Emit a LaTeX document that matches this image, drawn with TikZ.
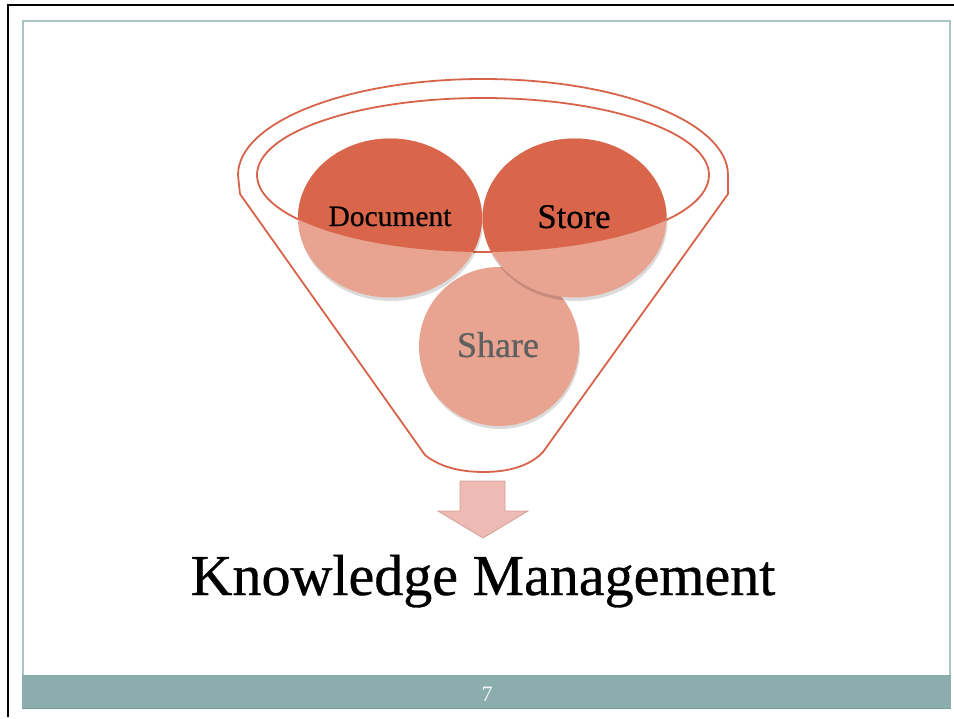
\documentclass[tikz,border=0pt]{standalone}
\usepackage{fontspec}
\setmainfont{Liberation Serif}
\newfontfamily\heavyserif{Liberation Serif}[FakeBold=0.6]
\usetikzlibrary{shapes.geometric}

\definecolor{rimred}{RGB}{215,100,74}
\definecolor{darkfill}{RGB}{217,101,74}
\definecolor{lightfill}{RGB}{232,163,145}
\definecolor{arrowfill}{RGB}{237,187,180}
\definecolor{arrowedge}{RGB}{214,160,152}
\definecolor{frameteal}{RGB}{170,196,196}
\definecolor{barteal}{RGB}{139,173,173}
\definecolor{bardark}{RGB}{120,155,155}
\definecolor{sharegray}{RGB}{95,96,96}

\tikzset{
  rim/.style={draw=rimred, line width=1.8pt},
  bubble/.style={ellipse, fill=lightfill, inner sep=0pt},
  bubbleshadow/.style={fill=black, opacity=0.14},
  label/.style={inner sep=0pt, anchor=base}
}

\begin{document}
\begin{tikzpicture}[x=1pt,y=-1pt]
  \useasboundingbox (0,0) rectangle (954,719);
  \fill[white] (0,0) rectangle (954,719);

  % slide frame
  \draw[black, line width=2.6pt] (954,5) -- (8,5) -- (8,717);
  \draw[frameteal, line width=1.6pt] (23,675) -- (23,21) -- (950,21) -- (950,675);
  \fill[barteal] (22,675) rectangle (951,708);
  \draw[bardark, line width=1pt] (22,708) -- (951,708);
  \node[inner sep=0pt, anchor=base, text=white!92!barteal,
        font=\fontsize{22}{24}\selectfont] (pagenum) at (487,701) {7};

  % funnel body
  \draw[rim, line join=round]
    (425,455) -- (240,194) -- (238,175)
    arc[start angle=180, end angle=0, x radius=245pt, y radius=96pt]
    -- (728,194) -- (543,452)
    .. controls (530,466) and (508,472) .. (484,472)
    .. controls (460,472) and (440,467) .. (425,455) -- cycle;
  % funnel mouth
  \draw[rim] (483,175) ellipse[x radius=226pt, y radius=77pt];

  % bubbles
  \fill[bubbleshadow] (500,349) ellipse[x radius=80pt, y radius=80pt];
  \node[bubble, minimum width=160pt, minimum height=159pt] (share) at (499,346.5) {};
  \fill[bubbleshadow] (391,221) ellipse[x radius=92pt, y radius=80pt];
  \node[bubble, minimum width=184pt, minimum height=159pt] (doc) at (390,218) {};
  \fill[bubbleshadow] (575.5,221) ellipse[x radius=92pt, y radius=80pt];
  \node[bubble, minimum width=184pt, minimum height=159pt] (store) at (574.5,218) {};

  % the part of each bubble inside the mouth is darker
  \begin{scope}
    \clip (483,175) ellipse[x radius=226pt, y radius=77pt];
    \fill[darkfill] (doc.center) ellipse[x radius=92pt, y radius=79.5pt];
    \fill[darkfill] (store.center) ellipse[x radius=92pt, y radius=79.5pt];
  \end{scope}

  \node[label, font=\heavyserif\fontsize{29.5}{32}\selectfont] at (390,226) {Document};
  \node[label, font=\heavyserif\fontsize{34.6}{38}\selectfont] at (574,228) {Store};
  \node[label, text=sharegray, font=\heavyserif\fontsize{36}{40}\selectfont] at (498,357) {Share};

  % outlet arrow
  \draw[fill=arrowfill, draw=arrowedge, line width=0.8pt, line join=miter]
    (460,481) -- (505,481) -- (505,511) -- (528,511) -- (483,538)
    -- (438,511) -- (460,511) -- cycle;

  \node[label, font=\heavyserif\fontsize{58}{64}\selectfont] (km) at (483,595) {Knowledge Management};
\end{tikzpicture}
\end{document}
